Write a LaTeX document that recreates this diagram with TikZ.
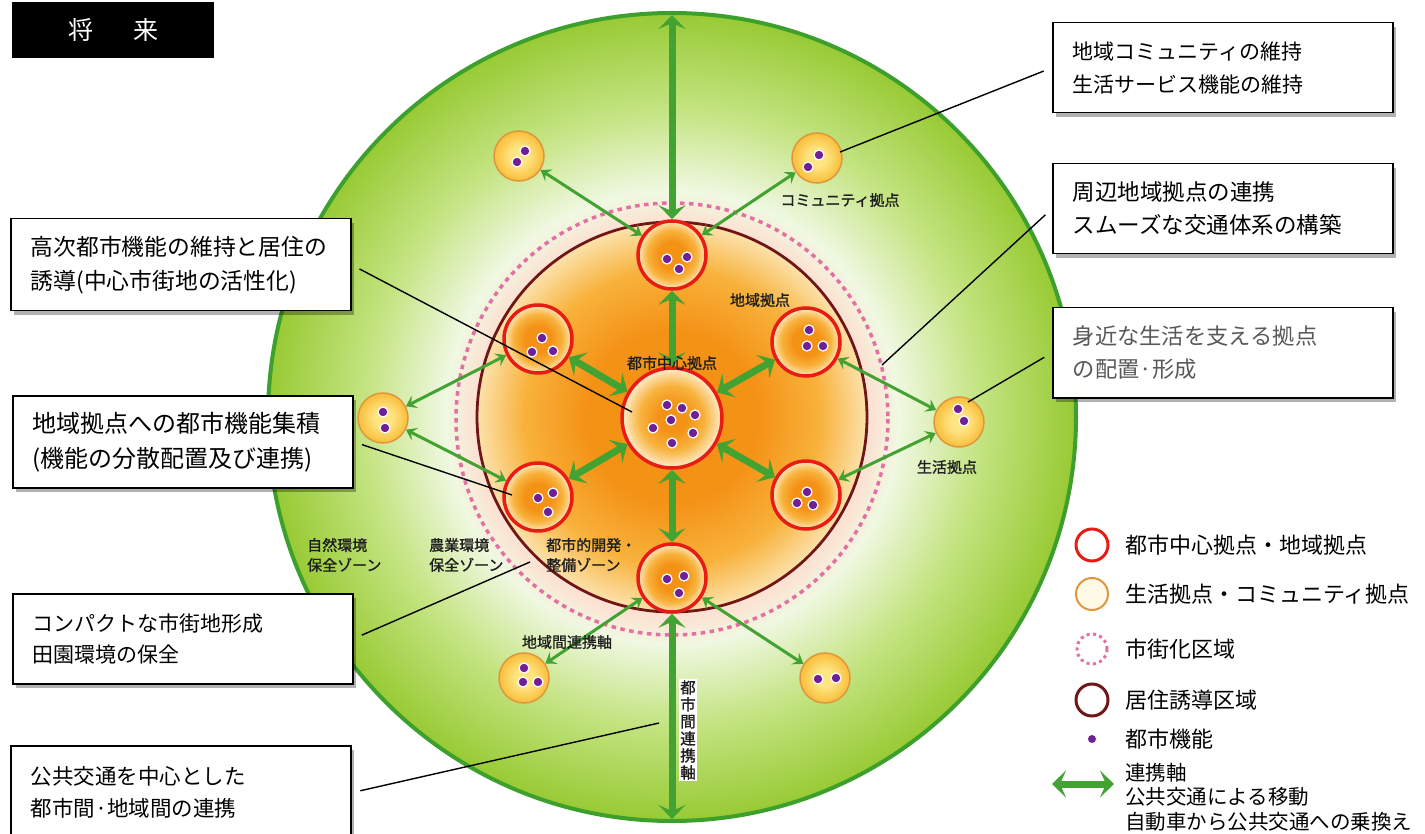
\documentclass[tikz,border=0pt]{standalone}
\usepackage{fontspec}
\setmainfont{Noto Sans CJK JP}
\newfontfamily\zonefont[FakeBold=1.2]{Noto Sans CJK JP}
\usepackage{tikz}
\usetikzlibrary{arrows.meta,shadows}

\definecolor{grnline}{RGB}{62,160,44}
\definecolor{grnin}{RGB}{240,248,226}
\definecolor{grnmid}{RGB}{196,228,130}
\definecolor{grnout}{RGB}{152,202,52}
\definecolor{peach}{RGB}{252,226,210}
\definecolor{orgdeep}{RGB}{244,146,22}
\definecolor{orgmid}{RGB}{248,178,60}
\definecolor{orgpale}{RGB}{252,226,172}
\definecolor{redline}{RGB}{232,28,20}
\definecolor{brownline}{RGB}{112,22,22}
\definecolor{pinkline}{RGB}{226,112,162}
\definecolor{dotpurple}{RGB}{112,32,150}
\definecolor{yelin}{RGB}{255,228,130}
\definecolor{yelout}{RGB}{248,190,58}
\definecolor{yelline}{RGB}{224,150,62}
\definecolor{axisgreen}{RGB}{66,162,50}
\definecolor{labelgray}{RGB}{30,30,30}

% radius of a shaded circle = 25bp
\pgfdeclareradialshading{greenzone}{\pgfpoint{0bp}{0bp}}{color(0bp)=(grnin); color(14bp)=(grnin); color(19bp)=(grnmid); color(25bp)=(grnout); color(50bp)=(grnout)}
\pgfdeclareradialshading{peachzone}{\pgfpoint{0bp}{0bp}}{color(0bp)=(peach); color(22bp)=(peach); color(25bp)=(grnin); color(50bp)=(grnin)}
\pgfdeclareradialshading{urbanzone}{\pgfpoint{0bp}{0bp}}{color(0bp)=(orgdeep); color(11bp)=(orgdeep); color(19bp)=(orgmid); color(25bp)=(orgpale); color(50bp)=(orgpale)}
\pgfdeclareradialshading{hubfill}{\pgfpoint{0bp}{0bp}}{color(0bp)=(orgdeep); color(7bp)=(orgdeep); color(16bp)=(orgmid); color(25bp)=(orgpale!60!white); color(50bp)=(orgpale!60!white)}
\pgfdeclareradialshading{basefill}{\pgfpoint{0bp}{0bp}}{color(0bp)=(orgdeep); color(10bp)=(orgdeep); color(18bp)=(orgmid); color(25bp)=(orgpale!80!white); color(50bp)=(orgpale!80!white)}
\pgfdeclareradialshading{lifefill}{\pgfpoint{0bp}{0bp}}{color(0bp)=(yelin); color(9bp)=(yelin); color(25bp)=(yelout); color(50bp)=(yelout)}

\begin{document}
\begin{tikzpicture}
  [
    x=1pt, y=-1pt,
    hubnode/.style={circle, draw=redline, line width=3.5pt, shade, shading=hubfill, minimum size=100pt, inner sep=0pt},
    basenode/.style={circle, draw=redline, line width=3.5pt, shade, shading=basefill, minimum size=68pt, inner sep=0pt},
    lifenode/.style={circle, draw=yelline, line width=1.5pt, shade, shading=lifefill, minimum size=50pt, inner sep=0pt},
    fdot/.style={circle, fill=dotpurple, draw=white, line width=1.2pt, minimum size=10pt, inner sep=0pt},
    axisarrow/.style={draw=axisgreen, line width=7pt, {Stealth[length=14pt,width=27pt,inset=6pt]}-{Stealth[length=14pt,width=27pt,inset=6pt]}},
    linkarrow/.style={draw=axisgreen, line width=3pt, {Stealth[length=10pt,width=14pt,inset=4pt]}-{Stealth[length=10pt,width=14pt,inset=4pt]}},
    leader/.style={draw=black, line width=1.4pt},
    notebox/.style={draw=black, line width=1.5pt, fill=white, anchor=north west, minimum width=340pt, text width=300pt, inner xsep=20pt, align=left, font=\fontsize{22}{33}\selectfont, drop shadow={shadow xshift=3pt, shadow yshift=-4pt, opacity=.3, fill=black}},
    zonetext/.style={text=labelgray, font=\zonefont\fontsize{15}{20}\selectfont, inner sep=1pt, align=left},
    legtext/.style={anchor=west, font=\fontsize{22}{24.5}\selectfont, inner sep=0pt, align=left}
  ]
    \path[use as bounding box, fill=white] (0,0) rectangle (1425,834);

    % zones
    \shade[shading=greenzone] (672,417) circle (404);
    \draw[grnline, line width=4pt] (672,417) circle (404);
    \shade[shading=peachzone] (672,419) circle (226);
    \shade[shading=urbanzone] (672,417) circle (195);
    \draw[brownline, line width=2.8pt] (672,417) circle (195);
    \draw[pinkline, line width=3.5pt, dash pattern=on 4.5pt off 4.5pt] (672,419) circle (216);

    % bases
    \node[hubnode] (hub) at (672,418) {};
    \node[basenode] (rt) at (672,255) {};
    \node[basenode] (rur) at (806,342) {};
    \node[basenode] (rlr) at (806,495) {};
    \node[basenode] (rb) at (672,578) {};
    \node[basenode] (rll) at (538,497) {};
    \node[basenode] (rul) at (538,339) {};

    \node[lifenode] (kTL) at (519,156) {};
    \node[lifenode] (kTR) at (817,158) {};
    \node[lifenode] (kL) at (383,418) {};
    \node[lifenode] (kR) at (959,422) {};
    \node[lifenode] (kBL) at (524,678) {};
    \node[lifenode] (kBR) at (825,678) {};

    \foreach \nd/\dx/\dy [count=\i] in {hub/-5/-13, hub/10/-10, hub/23/-3, hub/-1/2, hub/-19/10, hub/21/15, hub/0/25,
      rt/-5/4, rt/15/2, rt/7/14, rul/4/-1, rul/-6/13, rul/15/12, rll/0/1, rll/15/-4, rll/10/15,
      rur/3/-12, rur/1/4, rur/17/4, rlr/1/-3, rlr/-9/8, rlr/7/10, rb/-5/1, rb/12/-2, rb/7/15,
      kTL/6/-5, kTL/-2/6, kTR/2/-3, kTR/-9/9, kL/0/-6, kL/2/10, kR/-1/-13, kR/5/-1,
      kBL/0/-10, kBL/-1/4, kBL/14/4, kBR/-7/1, kBR/11/0}
      \node[fdot] (dot\i) at ([shift={(\dx,\dy)}]\nd) {};

    % axes
    \coordinate (gtop) at (672,15);
    \coordinate (gbot) at (672,819);
    \draw[axisarrow] (gtop) -- (rt);
    \draw[axisarrow] (rb) -- (gbot);
    \foreach \r in {rt,rur,rlr,rb,rll,rul}
      \draw[axisarrow] (hub) -- (\r);
    \foreach \a/\b in {kTL/rt, kTR/rt, kL/rul, kL/rll, kR/rur, kR/rlr, kBL/rb, kBR/rb}
      \draw[linkarrow] (\a) -- (\b);

    % labels
    \node[zonetext] (lcom) at (840,200) {コミュニティ拠点};
    \node[zonetext] (lreg) at (760,300) {地域拠点};
    \node[zonetext] (lhub) at (672,363) {都市中心拠点};
    \node[zonetext] (llife) at (947,467) {生活拠点};
    \node[zonetext] (lrax) at (567,642) {地域間連携軸};
    \node[zonetext, anchor=west] (lnat) at (306,555) {自然環境\\保全ゾーン};
    \node[zonetext, anchor=west] (lagr) at (428,555) {農業環境\\保全ゾーン};
    \node[zonetext, anchor=west] (lurb) at (545,555) {都市的開発・\\整備ゾーン};
    \node[zonetext, fill=white, align=center, font=\zonefont\fontsize{15.5}{17}\selectfont] (lcax) at (688,730) {都\\市\\間\\連\\携\\軸};

    % title
    \node[fill=black, text=white, minimum width=202pt, minimum height=56pt, font=\fontsize{25}{28}\selectfont] (title) at (113,30) {将\hspace{40pt}来};

    % notes
    \node[notebox, minimum height=92pt, font=\fontsize{22.8}{34}\selectfont] (noteA) at (10,218) {高次都市機能の維持と居住の\\誘導(中心市街地の活性化)};
    \node[notebox, minimum height=92pt, font=\fontsize{24}{35}\selectfont] (noteB) at (12,395) {地域拠点への都市機能集積\\(機能の分散配置及び連携)};
    \node[notebox, minimum height=90pt, font=\fontsize{21}{31}\selectfont] (noteC) at (12,593) {コンパクトな市街地形成\\田園環境の保全};
    \node[notebox, minimum height=94pt, font=\fontsize{21.5}{32}\selectfont] (noteD) at (10,745) {公共交通を中心とした\\都市間·地域間の連携};
    \node[notebox, minimum height=90pt, font=\fontsize{21}{33}\selectfont] (noteE) at (1052,22) {地域コミュニティの維持\\生活サービス機能の維持};
    \node[notebox, minimum height=90pt, font=\fontsize{22.5}{33}\selectfont] (noteF) at (1052,163) {周辺地域拠点の連携\\スムーズな交通体系の構築};
    \node[notebox, minimum height=90pt, font=\fontsize{22.3}{33}\selectfont, text=black!65] (noteG) at (1052,307) {身近な生活を支える拠点\\の配置·形成};

    \coordinate (endA) at (632,412);
    \coordinate (endB) at (512,495);
    \coordinate (endC) at (530,562);
    \coordinate (endD) at (659,723);
    \coordinate (endE) at (840,152);
    \coordinate (endF) at (882,365);
    \coordinate (endG) at (968,402);
    \foreach \n/\e in {noteA/endA, noteB/endB, noteC/endC, noteD/endD}
      \draw[leader, shorten <=9pt] (\n.east) -- (\e);
    \foreach \n/\e in {noteE/endE, noteF/endF, noteG/endG}
      \draw[leader, shorten <=9pt] (\n.west) -- (\e);

    % legend
    \node[circle, draw=redline, line width=3pt, minimum size=32pt] (lg1) at (1092,545) {};
    \node[circle, draw=yelline, fill=yelin!20, line width=2pt, minimum size=32pt] (lg2) at (1092,594) {};
    \node[circle, draw=pinkline, line width=3pt, dash pattern=on 3pt off 3.5pt, minimum size=30pt] (lg3) at (1092,649) {};
    \node[circle, draw=brownline, line width=3pt, minimum size=32pt] (lg4) at (1092,700) {};
    \node[circle, fill=dotpurple, minimum size=8pt, inner sep=0pt] (lg5) at (1092,739) {};
    \coordinate (la1) at (1052,784);
    \coordinate (la2) at (1114,784);
    \draw[axisarrow] (la1) -- (la2);

    \node[legtext] (lt1) at (1125,545) {都市中心拠点・地域拠点};
    \node[legtext] (lt2) at (1125,594) {生活拠点・コミュニティ拠点};
    \node[legtext] (lt3) at (1125,649) {市街化区域};
    \node[legtext] (lt4) at (1125,700) {居住誘導区域};
    \node[legtext] (lt5) at (1125,739) {都市機能};
    \node[legtext, font=\fontsize{20.5}{24.5}\selectfont] (lt6) at (1125,797) {連携軸\\公共交通による移動\\自動車から公共交通への乗換え};
\end{tikzpicture}
\end{document}
